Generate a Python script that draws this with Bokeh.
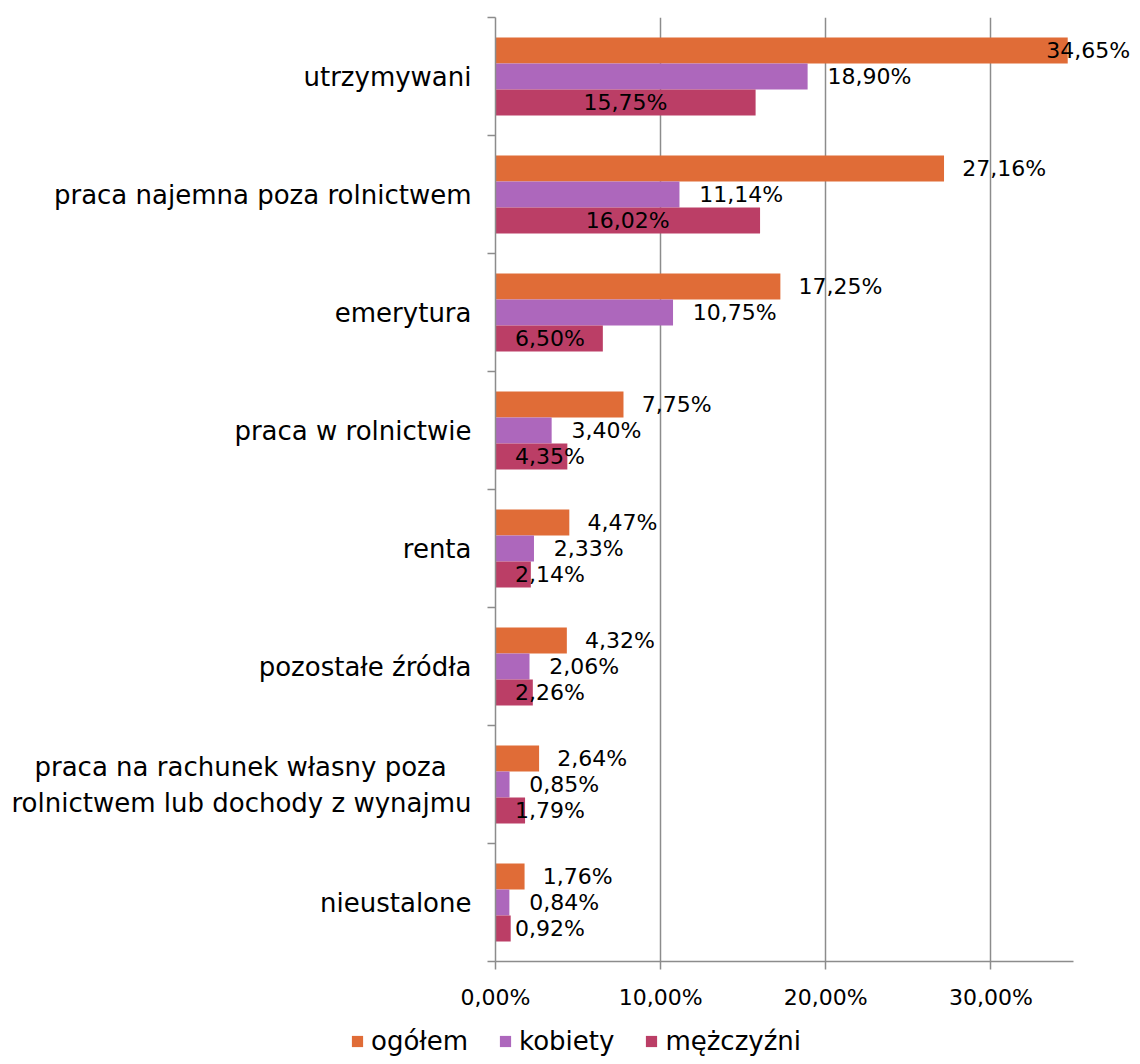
from bokeh.plotting import figure
from bokeh.layouts import column
from bokeh.models import (Range1d, FixedTicker, ColumnDataSource, LabelSet,
                          Legend, LegendItem)
from bokeh.core.properties import value
from bokeh.embed import file_html
from bokeh.resources import INLINE

categories = [
    "utrzymywani",
    "praca najemna poza rolnictwem",
    "emerytura",
    "praca w rolnictwie",
    "renta",
    "pozostałe źródła",
    "praca na rachunek własny poza\u00a0\u00a0\u00a0\nrolnictwem lub dochody z wynajmu",
    "nieustalone",
]
ogolem = [34.65, 27.16, 17.25, 7.75, 4.47, 4.32, 2.64, 1.76]
kobiety = [18.90, 11.14, 10.75, 3.40, 2.33, 2.06, 0.85, 0.84]
mezczyzni = [15.75, 16.02, 6.50, 4.35, 2.14, 2.26, 1.79, 0.92]
series_names = ["ogółem", "kobiety", "mężczyźni"]
x_ticks = [0, 10, 20, 30]
x_tick_labels = ["0,00%", "10,00%", "20,00%", "30,00%"]
x_axis_max = 35

colors = ["#E06C37", "#AD67BC", "#BB3E66"]
FONT = "DejaVu Sans"
GRAY = "#8c8c8c"

def fmt(v):
    return ("%.2f%%" % v).replace(".", ",")

n = len(categories)
centers = [i + 0.5 for i in range(n)]
bar_h = 0.22
offsets = [-bar_h, 0.0, bar_h]

W = 1132
H_MAIN = 1012
H_LEG = 44
left_b = 495
frame_w_axis = 578.0          # pixels spanned by the 0..35 axis
x_view_max = x_axis_max * (W - left_b) / frame_w_axis

p = figure(width=W, height=H_MAIN, x_range=Range1d(0, x_view_max), y_range=Range1d(n, 0),
           output_backend="svg", toolbar_location=None,
           min_border_left=left_b, min_border_right=0, min_border_top=17,
           min_border_bottom=51)
p.outline_line_color = None
p.background_fill_color = "white"
p.frame_align = False

all_series = [ogolem, kobiety, mezczyzni]
for vals, off, col in zip(all_series, offsets, colors):
    ys = [c + off for c in centers]
    src = ColumnDataSource(dict(y=ys, right=vals))
    p.hbar(y="y", right="right", left=0, height=bar_h, source=src,
           fill_color=col, line_color=None)

# data labels
lab_specs = []
lab_specs.append(([min(v + 1.1, 33.35) for v in ogolem], ogolem, offsets[0], "left"))
lab_specs.append(([v + 1.2 for v in kobiety], kobiety, offsets[1], "left"))
lab_specs.append(([max(v / 2, 3.3) for v in mezczyzni], mezczyzni, offsets[2], "center"))

for xs, vals, off, align in lab_specs:
    src = ColumnDataSource(dict(x=xs, y=[c + off for c in centers],
                                t=[fmt(v) for v in vals]))
    ls = LabelSet(x="x", y="y", text="t", source=src, text_align=align,
                  text_baseline="middle", text_font_size="22px",
                  text_font=value(FONT), text_color="#000000")
    p.add_layout(ls)

# x axis
p.xaxis.ticker = FixedTicker(ticks=x_ticks)
p.xaxis.bounds = (0, x_axis_max)
p.xaxis.major_label_overrides = {t: l for t, l in zip(x_ticks, x_tick_labels)}
p.xaxis.major_tick_out = 8
p.xaxis.major_tick_in = 0
p.xaxis.minor_tick_out = 0
p.xaxis.minor_tick_in = 0
p.xaxis.axis_line_color = GRAY
p.xaxis.axis_line_width = 1.5
p.xaxis.major_tick_line_color = GRAY
p.xaxis.major_tick_line_width = 1.5
p.xaxis.major_label_text_font = FONT
p.xaxis.major_label_text_font_size = "22px"
p.xaxis.major_label_text_color = "#000000"
p.xaxis.major_label_standoff = 15

# y axis: labels at category centres, ticks at category boundaries
p.yaxis.ticker = FixedTicker(ticks=centers, minor_ticks=list(range(n + 1)))
p.yaxis.major_label_overrides = {c: cat for c, cat in zip(centers, categories)}
p.yaxis.major_tick_out = 0
p.yaxis.major_tick_in = 0
p.yaxis.minor_tick_out = 8
p.yaxis.minor_tick_in = 0
p.yaxis.minor_tick_line_color = GRAY
p.yaxis.minor_tick_line_width = 1.5
p.yaxis.axis_line_color = GRAY
p.yaxis.axis_line_width = 1.5
p.yaxis.major_label_text_font = FONT
p.yaxis.major_label_text_font_size = "26px"
p.yaxis.major_label_text_color = "#000000"
p.yaxis.major_label_standoff = 16

p.xgrid.ticker = FixedTicker(ticks=x_ticks)
p.xgrid.grid_line_color = GRAY
p.xgrid.grid_line_width = 1.5
p.ygrid.grid_line_color = None

# legend strip below the chart (hidden copies of the series, legend only)
pl = figure(width=W, height=H_LEG, x_range=Range1d(0, 1), y_range=Range1d(0, 1),
            output_backend="svg", toolbar_location=None,
            min_border_left=0, min_border_right=0, min_border_top=0,
            min_border_bottom=0)
pl.frame_align = False
pl.outline_line_color = None
pl.axis.visible = False
pl.grid.grid_line_color = None
leg_renderers = []
for vals, off, col in zip(all_series, offsets, colors):
    src = ColumnDataSource(dict(y=[c + off for c in centers], right=vals))
    r = pl.hbar(y="y", right="right", left=0, height=bar_h,
                source=src, fill_color=col, line_color=None)
    r.visible = False
    leg_renderers.append(r)
legend = Legend(items=[LegendItem(label=nm, renderers=[r])
                       for nm, r in zip(series_names, leg_renderers)],
                orientation="horizontal", location=(350, 0))
legend.click_policy = "none"
legend.inactive_fill_alpha = 0
legend.glyph_width = 14
legend.glyph_height = 14
legend.label_text_font = FONT
legend.label_text_font_size = "26px"
legend.label_text_color = "#000000"
legend.label_standoff = 7
legend.spacing = 30
legend.padding = 0
legend.margin = 0
legend.border_line_color = None
legend.background_fill_alpha = 0
pl.add_layout(legend, "center")

layout = column(p, pl, spacing=0)
open("out.html", "w").write(file_html(layout, INLINE))
